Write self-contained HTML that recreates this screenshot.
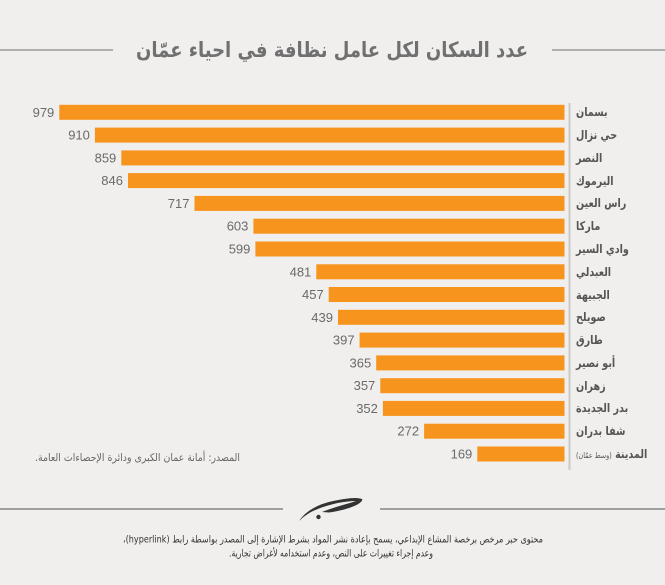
<!DOCTYPE html>
<html>
<head>
<meta charset="utf-8">
<style>
  html,body{margin:0;padding:0;}
  body{width:665px;height:585px;background:#f0efed;position:relative;overflow:hidden;
       font-family:"DejaVu Sans","Liberation Sans",sans-serif;}
  svg{position:absolute;left:0;top:0;}
  .lbl{position:absolute;left:576px;height:16px;line-height:16px;font-weight:bold;font-size:12px;
       color:#555;direction:rtl;white-space:nowrap;font-family:"DejaVu Sans",sans-serif;
       transform:scaleX(0.8);transform-origin:0 50%;}
  .lbl span{font-size:8px;font-weight:normal;}
</style>
</head>
<body>
<svg width="665" height="585" viewBox="0 0 665 585">
  <line x1="0" y1="50" x2="113" y2="50" stroke="#9c9c9c" stroke-width="1.5"/>
  <line x1="552" y1="50" x2="665" y2="50" stroke="#9c9c9c" stroke-width="1.5"/>
  <text x="332" y="57" direction="rtl" text-anchor="middle" textLength="392" lengthAdjust="spacingAndGlyphs"
        font-family="DejaVu Sans, sans-serif" font-weight="bold" font-size="21" fill="#707070">عدد السكان لكل عامل نظافة في احياء عمّان</text>

  <line x1="569.5" y1="103" x2="569.5" y2="470" stroke="#c9c9c9" stroke-width="2"/>

  <g fill="#f7941d">
    <rect x="59.3" y="104.8" width="505.2" height="15"/>
    <rect x="94.9" y="127.6" width="469.6" height="15"/>
    <rect x="121.3" y="150.4" width="443.2" height="15"/>
    <rect x="128.0" y="173.1" width="436.5" height="15"/>
    <rect x="194.5" y="195.9" width="370.0" height="15"/>
    <rect x="253.4" y="218.7" width="311.1" height="15"/>
    <rect x="255.4" y="241.5" width="309.1" height="15"/>
    <rect x="316.3" y="264.3" width="248.2" height="15"/>
    <rect x="328.7" y="287.0" width="235.8" height="15"/>
    <rect x="338.0" y="309.8" width="226.5" height="15"/>
    <rect x="359.6" y="332.6" width="204.9" height="15"/>
    <rect x="376.2" y="355.4" width="188.3" height="15"/>
    <rect x="380.3" y="378.2" width="184.2" height="15"/>
    <rect x="382.9" y="400.9" width="181.6" height="15"/>
    <rect x="424.1" y="423.7" width="140.4" height="15"/>
    <rect x="477.3" y="446.5" width="87.2" height="15"/>
  </g>

  <g font-family="Liberation Sans, sans-serif" font-size="13" fill="#6a6a6a" text-anchor="end">
    <text x="54.3" y="116.8">979</text>
    <text x="89.9" y="139.6">910</text>
    <text x="116.3" y="162.4">859</text>
    <text x="123.0" y="185.1">846</text>
    <text x="189.5" y="207.9">717</text>
    <text x="248.4" y="230.7">603</text>
    <text x="250.4" y="253.5">599</text>
    <text x="311.3" y="276.3">481</text>
    <text x="323.7" y="299.0">457</text>
    <text x="333.0" y="321.8">439</text>
    <text x="354.6" y="344.6">397</text>
    <text x="371.2" y="367.4">365</text>
    <text x="375.3" y="390.2">357</text>
    <text x="377.9" y="412.9">352</text>
    <text x="419.1" y="435.7">272</text>
    <text x="472.3" y="458.5">169</text>
  </g>

  <text x="137.5" y="461" direction="rtl" text-anchor="middle" textLength="205" lengthAdjust="spacingAndGlyphs"
        font-family="DejaVu Sans, sans-serif" font-size="10.5" fill="#666">المصدر: أمانة عمان الكبرى ودائرة الإحصاءات العامة.</text>

  <line x1="0" y1="509" x2="283" y2="509" stroke="#a0a0a0" stroke-width="2"/>
  <line x1="380" y1="509" x2="665" y2="509" stroke="#a0a0a0" stroke-width="2"/>
  <path d="M299,521 C305,512 316,505 331,501.5 C345,498.5 358,496.5 362.5,499.5 C361,505 346,510 329,512.5 L322,512 C331,508 346,504.5 356,501 C343,501 326,505 313,511 C307,514 302,518 299,521 Z" fill="#333"/>
  <circle cx="318.5" cy="517" r="2.2" fill="#333"/>

  <g font-family="DejaVu Sans, sans-serif" font-size="10" fill="#333" direction="rtl" text-anchor="middle">
    <text x="333" y="542.5" textLength="420" lengthAdjust="spacingAndGlyphs">محتوى حبر مرخص برخصة المشاع الإبداعي، يسمح بإعادة نشر المواد بشرط الإشارة إلى المصدر بواسطة رابط (hyperlink)،</text>
    <text x="331" y="556.5" textLength="204" lengthAdjust="spacingAndGlyphs">وعدم إجراء تغييرات على النص، وعدم استخدامه لأغراض تجارية.</text>
  </g>
</svg>

<div class="lbl" style="top:104.3px">بسمان</div>
<div class="lbl" style="top:127.1px">حي نزال</div>
<div class="lbl" style="top:149.9px">النصر</div>
<div class="lbl" style="top:172.6px">اليرموك</div>
<div class="lbl" style="top:195.4px">راس العين</div>
<div class="lbl" style="top:218.2px">ماركا</div>
<div class="lbl" style="top:241.0px">وادي السير</div>
<div class="lbl" style="top:263.8px">العبدلي</div>
<div class="lbl" style="top:286.5px">الجبيهة</div>
<div class="lbl" style="top:309.3px">صويلح</div>
<div class="lbl" style="top:332.1px">طارق</div>
<div class="lbl" style="top:354.9px">أبو نصير</div>
<div class="lbl" style="top:377.7px">زهران</div>
<div class="lbl" style="top:400.4px">بدر الجديدة</div>
<div class="lbl" style="top:423.2px">شفا بدران</div>
<div class="lbl" style="top:446.0px">المدينة <span>(وسط عمّان)</span></div>
</body>
</html>
